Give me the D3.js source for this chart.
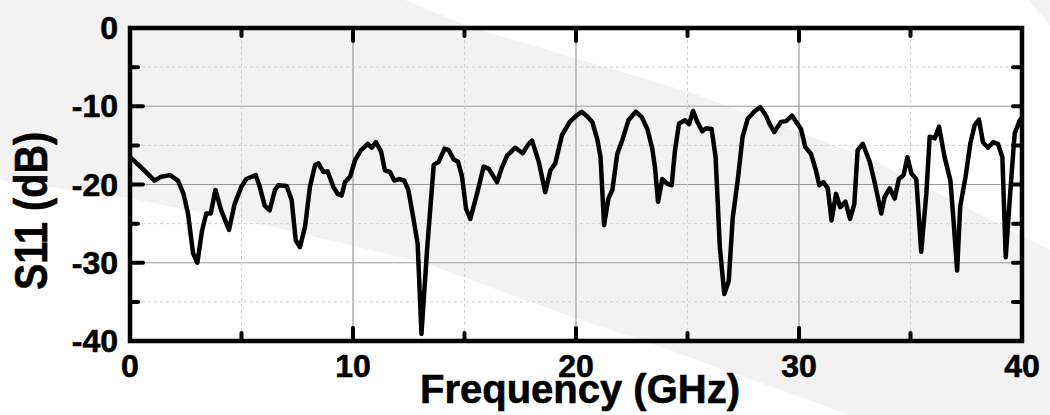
<!DOCTYPE html>
<html>
<head>
<meta charset="utf-8">
<script src="https://cdn.jsdelivr.net/npm/d3@7"></script>
<style>
  body { margin: 0; background: #fff; }
  text { font-family: "Liberation Sans", Arial, sans-serif; font-weight: bold; fill: #000; stroke: #000; stroke-width: 0.6px; }
</style>
</head>
<body>
<div id="viz"><svg width="1050" height="415"></svg></div>
<script>
// S11 vs frequency
const freq = [0.0, 0.5, 1.1, 1.4, 1.8, 2.15, 2.4, 2.6, 2.83, 3.02, 3.23, 3.42, 3.62, 3.83, 4.09, 4.44, 4.69, 4.99,
  5.22, 5.64, 5.82, 6.04, 6.26, 6.5, 6.65, 7.03, 7.25, 7.43, 7.62, 7.85, 8.07, 8.3, 8.45, 8.67, 8.86, 9.12, 9.31,
  9.49, 9.64, 9.87, 10.09, 10.36, 10.66, 10.84, 11.03, 11.26, 11.43, 11.66, 11.85, 12.1, 12.3, 12.48, 12.7, 12.9,
  13.07, 13.32, 13.62, 13.84, 14.11, 14.29, 14.52, 14.71, 14.89, 15.07, 15.26, 15.56, 15.86, 16.09, 16.46, 16.68,
  16.91, 17.28, 17.61, 17.85, 18.03, 18.33, 18.62, 18.85, 19.07, 19.37, 19.72, 19.98, 20.25, 20.51, 20.73, 20.96,
  21.1, 21.26, 21.45, 21.63, 21.85, 22.08, 22.35, 22.68, 22.95, 23.2, 23.42, 23.54, 23.68, 23.87, 24.09, 24.29,
  24.44, 24.62, 24.89, 25.07, 25.25, 25.44, 25.66, 25.84, 26.08, 26.26, 26.45, 26.65, 26.85, 27.03, 27.25, 27.47,
  27.7, 27.99, 28.26, 28.52, 28.67, 28.89, 29.19, 29.42, 29.69, 29.87, 30.09, 30.28, 30.54, 30.76, 30.91, 31.09,
  31.29, 31.46, 31.66, 31.85, 32.08, 32.29, 32.48, 32.63, 32.86, 33.17, 33.39, 33.69, 33.84, 34.07, 34.29, 34.48,
  34.69, 34.86, 35.04, 35.26, 35.48, 35.71, 35.86, 36.09, 36.28, 36.53, 36.79, 36.94, 37.09, 37.23, 37.47, 37.68,
  37.88, 38.07, 38.25, 38.48, 38.7, 38.92, 39.12, 39.27, 39.48, 39.67, 39.9, 40.0]
const s11 = [-16.5, -17.8, -19.5, -19.0, -18.8, -19.5, -21.2, -23.7, -28.8, -30.0, -25.9, -23.7, -23.7, -20.7, -23.3, -25.8, -22.5, -20.3,
  -19.3, -18.8, -20.3, -22.7, -23.3, -20.7, -20.1, -20.2, -22.0, -27.1, -28.0, -25.4, -20.3, -17.5, -17.3, -18.4, -18.3, -20.3, -21.2,
  -21.4, -19.7, -19.0, -16.9, -15.6, -14.8, -15.3, -14.6, -15.8, -18.2, -18.4, -19.5, -19.3, -19.5, -20.7, -24.2, -27.6,
  -39.1, -28.4, -17.5, -17.1, -15.4, -15.6, -16.8, -17.1, -19.0, -23.1, -24.4, -21.2, -17.7, -18.0, -19.7, -17.8,
  -16.3, -15.3, -16.0, -14.9, -14.4, -17.1, -21.0, -18.2, -17.3, -13.7, -12.0, -11.3, -10.7, -11.3, -12.0, -14.3,
  -16.5, -25.2, -21.8, -20.7, -16.1, -14.3, -11.8, -10.7, -11.4, -12.9, -15.4, -17.8, -22.2, -19.3, -19.9, -20.1,
  -15.6, -12.2, -11.8, -12.3, -10.6, -12.0, -13.2, -12.8, -12.9, -16.5, -28.0, -34.0, -32.3, -24.2, -19.5, -13.9,
  -11.6, -10.7, -10.1, -11.2, -12.2, -13.3, -12.0, -11.9, -11.2, -12.0, -12.9, -15.2, -16.1, -18.2, -20.1, -19.7,
  -20.5, -24.6, -21.2, -22.9, -22.2, -24.4, -22.5, -15.6, -14.8, -17.1, -19.7, -23.7, -21.6, -20.5, -21.8, -19.3,
  -18.8, -16.5, -18.6, -19.3, -28.6, -21.2, -13.9, -14.1, -12.6, -16.5, -19.5, -25.0, -31.0, -22.8, -19.0, -14.8,
  -12.4, -11.7, -14.6, -15.3, -14.6, -14.8, -16.5, -29.3, -20.7, -13.5, -11.8, -11.5]

const xTicks = [0, 10, 20, 30, 40]
const xMinor = [5, 15, 25, 35]
const yTicks = [0, -10, -20, -30, -40]
const yMinor = [-5, -15, -25, -35]

const svg = d3.select("#viz").select("svg")
const margin = {left: 130, top: 28, right: 28, bottom: 74}
const W = 1050 - margin.left - margin.right
const H = 415 - margin.top - margin.bottom

// light gray watermark band behind the plot
const bandUpper = [[405, 0], [473, 28], [689, 92], [866, 157], [1050, 250]]
const bandLower = [[850, 415], [650, 343], [572, 317], [425, 263], [278, 228], [128, 198], [0, 180]]
const bandPts = [[0, 0]].concat(bandUpper, [[1050, 415]], bandLower)
svg.append("path")
    .attr("d", d3.line().curve(d3.curveLinearClosed)(bandPts))
    .attr("fill", "#f2f2f2")
svg.append("path")
    .attr("d", d3.line().curve(d3.curveLinearClosed)([[1028, 0], [1050, 0], [1050, 25]]))
    .attr("fill", "#f2f2f2")

const x = d3.scaleLinear().domain([0, 40]).range([0, W])
const y = d3.scaleLinear().domain([-40, 0]).range([H, 0])

const g = svg.append("g")
    .attr("transform", "translate(" + margin.left + ", " + margin.top + ")")

// grid
g.selectAll("line.vmaj").data(xTicks.slice(1, -1)).enter().append("line")
    .attr("x1", d => x(d)).attr("x2", d => x(d)).attr("y1", 0).attr("y2", H)
    .attr("stroke", "#9a9a9a").attr("stroke-width", 1.2)
g.selectAll("line.hmaj").data(yTicks.slice(1, -1)).enter().append("line")
    .attr("y1", d => y(d)).attr("y2", d => y(d)).attr("x1", 0).attr("x2", W)
    .attr("stroke", "#9a9a9a").attr("stroke-width", 1.2)
g.selectAll("line.vmin").data(xMinor).enter().append("line")
    .attr("x1", d => x(d)).attr("x2", d => x(d)).attr("y1", 0).attr("y2", H)
    .attr("stroke", "#cfcfcf").attr("stroke-width", 1).attr("stroke-dasharray", "3,3")
g.selectAll("line.hmin").data(yMinor).enter().append("line")
    .attr("y1", d => y(d)).attr("y2", d => y(d)).attr("x1", 0).attr("x2", W)
    .attr("stroke", "#cfcfcf").attr("stroke-width", 1).attr("stroke-dasharray", "3,3")

// curve
const pts = freq.map((f, i) => [f, s11[i]])
g.append("path")
    .datum(pts)
    .attr("fill", "none")
    .attr("stroke", "#000")
    .attr("stroke-width", 4.5)
    .attr("stroke-linejoin", "round")
    .attr("d", d3.line().x(d => x(d[0])).y(d => y(d[1])))

// inward ticks on all four sides
const allX = xTicks.concat(xMinor).filter(d => d > 0 && d < 40)
const allY = yTicks.concat(yMinor).filter(d => d > -40 && d < 0)
const tk = d => (d % 10 === 0 ? 13 : 8)
g.selectAll("line.tb").data(allX).enter().append("line")
    .attr("x1", d => x(d)).attr("x2", d => x(d)).attr("y1", H).attr("y2", d => H - tk(d))
    .attr("stroke", "#000").attr("stroke-width", 4).attr("stroke-linecap", "round")
g.selectAll("line.tt").data(allX).enter().append("line")
    .attr("x1", d => x(d)).attr("x2", d => x(d)).attr("y1", 0).attr("y2", d => tk(d))
    .attr("stroke", "#000").attr("stroke-width", 4).attr("stroke-linecap", "round")
g.selectAll("line.tl").data(allY).enter().append("line")
    .attr("y1", d => y(d)).attr("y2", d => y(d)).attr("x1", 0).attr("x2", d => tk(d))
    .attr("stroke", "#000").attr("stroke-width", 4).attr("stroke-linecap", "round")
g.selectAll("line.tr").data(allY).enter().append("line")
    .attr("y1", d => y(d)).attr("y2", d => y(d)).attr("x1", W).attr("x2", W - 9)
    .attr("stroke", "#000").attr("stroke-width", 4).attr("stroke-linecap", "round")

// frame
g.append("rect")
    .attr("width", W).attr("height", H)
    .attr("fill", "none").attr("stroke", "#000").attr("stroke-width", 4.5)

// tick labels
g.selectAll("text.xl").data(xTicks).enter().append("text")
    .attr("x", d => x(d)).attr("y", H + 36)
    .attr("text-anchor", "middle").attr("font-size", 32)
    .text(d => d)
g.selectAll("text.yl").data(yTicks).enter().append("text")
    .attr("x", -12).attr("y", d => y(d) + 11)
    .attr("text-anchor", "end").attr("font-size", 32)
    .text(d => d)

// axis titles
g.append("text")
    .attr("x", 450).attr("y", H + 62)
    .attr("text-anchor", "middle").attr("font-size", 40)
    .text("Frequency (GHz)")
svg.append("text")
    .attr("transform", "translate(47, 211) rotate(-90) scale(0.86, 1)")
    .attr("text-anchor", "middle").attr("font-size", 46)
    .text("S11 (dB)")
</script>
</body>
</html>
